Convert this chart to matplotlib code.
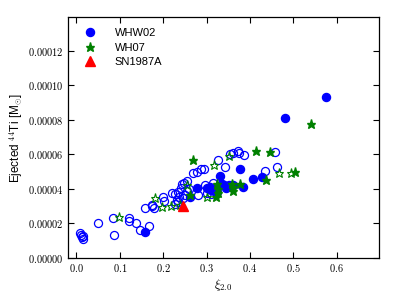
import matplotlib
matplotlib.use("Agg")
import matplotlib.pyplot as plt
from matplotlib.ticker import FuncFormatter, MultipleLocator

plt.rcParams['mathtext.fontset'] = 'cm'
plt.rcParams['font.family'] = ['Liberation Sans', 'DejaVu Sans']

# WHW02 exploding (filled)
whw02_x = [0.157, 0.262, 0.278, 0.308, 0.313, 0.318, 0.323, 0.331, 0.335, 0.344, 0.352,
           0.362, 0.383, 0.377, 0.408, 0.427, 0.481, 0.576, 0.310, 0.340, 0.325, 0.300]
whw02_y = [1.48, 3.56, 4.05, 4.14, 4.00, 3.90, 4.10, 4.72, 4.30, 4.05, 4.20,
           4.23, 4.14, 5.17, 4.60, 4.68, 8.10, 9.35, 3.95, 4.25, 3.85, 4.05]
# WHW02 other (open)
whw02o_x = [0.008, 0.010, 0.012, 0.014, 0.015, 0.050, 0.085, 0.086, 0.121, 0.122, 0.138,
            0.146, 0.168, 0.158, 0.175, 0.178, 0.200, 0.202, 0.221, 0.228, 0.235, 0.240,
            0.243, 0.248, 0.254, 0.231, 0.235, 0.227, 0.236, 0.246, 0.250, 0.256, 0.269,
            0.279, 0.287, 0.294, 0.281, 0.300, 0.297, 0.327, 0.342, 0.355, 0.362, 0.373,
            0.375, 0.386, 0.457, 0.463, 0.434, 0.174, 0.315, 0.310, 0.260]
whw02o_y = [1.45, 1.35, 1.20, 1.10, 1.30, 2.04, 2.29, 1.34, 2.33, 2.16, 2.04,
            1.61, 1.84, 2.87, 3.01, 2.89, 3.51, 3.32, 3.79, 3.69, 3.84, 4.04,
            4.27, 4.37, 4.47, 3.36, 3.26, 3.13, 3.55, 3.46, 3.65, 3.88, 4.91,
            4.97, 5.15, 5.18, 3.63, 3.75, 4.24, 5.69, 5.26, 6.04, 6.08, 6.17,
            6.08, 5.95, 6.12, 5.27, 5.01, 3.07, 4.35, 3.70, 4.00]
# WH07 exploding (filled stars)
wh07_x = [0.269, 0.415, 0.447, 0.505, 0.438, 0.542, 0.261, 0.325, 0.327, 0.322, 0.327,
          0.358, 0.362, 0.377, 0.360]
wh07_y = [5.65, 6.17, 6.14, 4.96, 4.53, 7.74, 3.62, 4.27, 4.00, 3.55, 3.75,
          4.27, 3.88, 4.27, 4.10]
# WH07 other (open stars)
wh07o_x = [0.098, 0.181, 0.197, 0.217, 0.238, 0.254, 0.302, 0.318, 0.352, 0.468, 0.495]
wh07o_y = [2.35, 3.46, 2.97, 3.01, 3.07, 4.25, 3.56, 5.40, 5.88, 4.92, 4.92]
# SN1987A
sn_x = [0.245]
sn_y = [3.01]

scale = 1e-5

fig = plt.figure(figsize=(3.99, 2.99), dpi=100)
ax = fig.add_axes([0.170, 0.137, 0.780, 0.806])

ax.plot(whw02o_x, [v * scale for v in whw02o_y], 'o', mfc='none', mec='blue',
        ms=5.8, mew=0.9, ls='none')
ax.plot(wh07o_x, [v * scale for v in wh07o_y], '*', mfc='none', mec='green',
        ms=6.5, mew=0.8, ls='none')
ax.plot(whw02_x, [v * scale for v in whw02_y], 'o', color='blue', mec='blue',
        ms=5.8, ls='none', label='WHW02')
ax.plot(wh07_x, [v * scale for v in wh07_y], '*', color='green', mec='green',
        ms=6.5, ls='none', label='WH07')
ax.plot(sn_x, [v * scale for v in sn_y], '^', color='red', mec='red',
        ms=6.5, ls='none', label='SN1987A')

ax.set_xlim(-0.02, 0.698)
ax.set_ylim(0, 0.0001395)
ax.xaxis.set_major_locator(MultipleLocator(0.1))
ax.yaxis.set_major_locator(MultipleLocator(0.00002))
ax.xaxis.set_major_formatter(FuncFormatter(lambda v, p: f"${v:.1f}$"))
ax.yaxis.set_major_formatter(FuncFormatter(lambda v, p: f"${v:.5f}$"))
ax.tick_params(direction='in', top=True, right=True, length=4, width=0.8,
               labelsize=7.5, pad=3)
for s in ax.spines.values():
    s.set_linewidth(0.9)

ax.set_xlabel(r'$\xi_{2.0}$', fontsize=9, labelpad=2)
ax.set_ylabel(r'Ejected $^{44}$Ti [M$_{\odot}$]', fontsize=8.5, labelpad=2)

ax.legend(loc='upper left', frameon=False, fontsize=8, handletextpad=1.2,
          borderaxespad=0.6, labelspacing=0.4, numpoints=1)

fig.savefig('out.png', dpi=100)
